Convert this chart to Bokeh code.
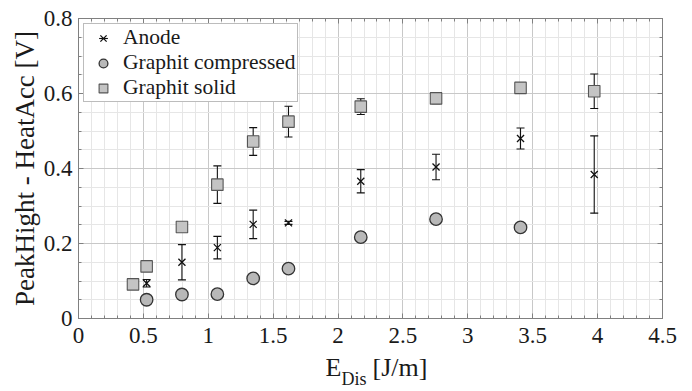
import numpy as np
from bokeh.plotting import figure
from bokeh.layouts import column
from bokeh.models import (Range1d, FixedTicker, LinearAxis, Whisker, ColumnDataSource,
                          Legend, LegendItem, Label, TeeHead)
from bokeh.embed import file_html
from bokeh.resources import INLINE

# ---------------- data ----------------
anode_x = [0.525, 0.797, 1.07, 1.346, 1.618, 2.175, 2.755, 3.406, 3.974]
anode_y = [0.094, 0.150, 0.189, 0.251, 0.255, 0.366, 0.404, 0.480, 0.384]
anode_err = [0.010, 0.047, 0.030, 0.038, 0.004, 0.031, 0.034, 0.028, 0.103]

comp_x = [0.525, 0.797, 1.07, 1.346, 1.618, 2.175, 2.755, 3.406]
comp_y = [0.050, 0.064, 0.065, 0.107, 0.133, 0.217, 0.265, 0.243]
comp_err = [0.008, 0.006, 0.006, 0.004, 0.006, 0.006, 0.005, 0.004]

solid_x = [0.42, 0.525, 0.797, 1.07, 1.346, 1.618, 2.175, 2.755, 3.406, 3.974]
solid_y = [0.091, 0.139, 0.244, 0.357, 0.472, 0.525, 0.565, 0.587, 0.615, 0.606]
solid_err = [0.008, 0.006, 0.004, 0.050, 0.037, 0.041, 0.021, 0.014, 0.004, 0.046]

series_labels = ["Anode", "Graphit compressed", "Graphit solid"]

x_ticks = [0, 0.5, 1, 1.5, 2, 2.5, 3, 3.5, 4, 4.5]
x_tick_labels = ["0", "0.5", "1", "1.5", "2", "2.5", "3", "3.5", "4", "4.5"]
y_ticks = [0, 0.2, 0.4, 0.6, 0.8]
y_tick_labels = ["0", "0.2", "0.4", "0.6", "0.8"]

x_label_main = "E"
x_label_sub = "Dis"
x_label_unit = "[J/m]"
y_label = "PeakHight - HeatAcc [V]"

# ---------------- styling ----------------
FONT = "Liberation Serif"
AX = "#808080"
TXT = "#1a1a1a"

x_minor = [round(0.1 * i, 2) for i in range(46)]
y_minor = [round(0.05 * i, 3) for i in range(17)]
xticker = FixedTicker(ticks=x_ticks, minor_ticks=x_minor)
yticker = FixedTicker(ticks=y_ticks, minor_ticks=y_minor)

p = figure(width=692, height=352, x_range=Range1d(0, 4.5), y_range=Range1d(0, 0.8),
           output_backend="svg", toolbar_location=None,
           min_border_left=78, min_border_right=30, min_border_top=18, min_border_bottom=34)
p.background_fill_color = "white"
p.border_fill_color = "white"
p.outline_line_color = AX


def style_axis(ax, ticker):
    ax.ticker = ticker
    ax.axis_line_color = AX
    ax.major_tick_line_color = AX
    ax.minor_tick_line_color = AX
    ax.major_tick_in = 5
    ax.major_tick_out = 0
    ax.minor_tick_in = 3
    ax.minor_tick_out = 0
    ax.major_label_text_font = FONT
    ax.major_label_text_font_size = "23px"
    ax.major_label_text_color = TXT


xa = p.xaxis[0]
style_axis(xa, xticker)
xa.major_label_overrides = dict(zip(x_ticks, x_tick_labels))
xa.major_label_standoff = 9

ya = p.yaxis[0]
style_axis(ya, yticker)
ya.major_label_overrides = dict(zip(y_ticks, y_tick_labels))
ya.major_label_standoff = 6
ya.axis_label = y_label
ya.axis_label_text_font = FONT
ya.axis_label_text_font_size = "27px"
ya.axis_label_text_font_style = "normal"
ya.axis_label_text_color = TXT
ya.axis_label_standoff = 1

top = LinearAxis()
style_axis(top, xticker)
top.major_label_overrides = dict(zip(x_ticks, [""] * len(x_ticks)))
top.major_label_standoff = 0
p.add_layout(top, "above")

right = LinearAxis()
style_axis(right, yticker)
right.major_label_overrides = dict(zip(y_ticks, [""] * len(y_ticks)))
right.major_label_standoff = 0
p.add_layout(right, "right")

for g, t in ((p.xgrid, xticker), (p.ygrid, yticker)):
    g.ticker = t
    g.grid_line_color = "#c8c8c8"
    g.minor_grid_line_color = "#e6e6e6"

# ---------------- data renderers ----------------
def make_src(x, y, e):
    y = np.array(y)
    e = np.array(e)
    return ColumnDataSource(dict(x=x, y=y, upper=y + e, lower=y - e))


src_a = make_src(anode_x, anode_y, anode_err)
src_c = make_src(comp_x, comp_y, comp_err)
src_s = make_src(solid_x, solid_y, solid_err)

r_c = p.scatter("x", "y", source=src_c, marker="circle", size=12.5,
                fill_color="#b8b8b8", line_color="#333333", line_width=1.3)
r_s = p.scatter("x", "y", source=src_s, marker="square", size=11.5,
                fill_color="#c4c4c4", line_color="#555555", line_width=1.1)
r_a = p.scatter("x", "y", source=src_a, marker="x", size=10,
                line_color="#111111", line_width=1.3)

for src in (src_a, src_c, src_s):
    w = Whisker(source=src, base="x", upper="upper", lower="lower", dimension="height",
                line_color="#111111", line_width=1.1,
                upper_head=TeeHead(size=8, line_color="#111111", line_width=1.1),
                lower_head=TeeHead(size=8, line_color="#111111", line_width=1.1))
    p.add_layout(w)

# legend-only error bar glyph (NaN position: nothing drawn in the plot)
bar_leg = p.scatter(x=[np.nan], y=[np.nan], marker="dash", angle=np.pi / 2, size=10,
                    line_color="#111111", line_width=1.1)

legend = Legend(items=[
    LegendItem(label=series_labels[0], renderers=[bar_leg, r_a]),
    LegendItem(label=series_labels[1], renderers=[bar_leg, r_c]),
    LegendItem(label=series_labels[2], renderers=[bar_leg, r_s]),
], location="top_left")
legend.label_text_font = FONT
legend.label_text_font_size = "21.5px"
legend.label_text_color = TXT
legend.glyph_width = 36
legend.glyph_height = 22
legend.label_height = 22
legend.spacing = 0
legend.padding = 1
legend.label_standoff = 2
legend.margin = 5
legend.border_line_color = "#7a7a7a"
legend.background_fill_color = "white"
legend.background_fill_alpha = 1
p.add_layout(legend)

# ---------------- x axis label (with subscript) in a strip below ----------------
p2 = figure(width=692, height=39, x_range=p.x_range, y_range=Range1d(0, 39),
            output_backend="svg", toolbar_location=None,
            x_axis_location=None, y_axis_location=None,
            min_border_left=78, min_border_right=30, min_border_top=0, min_border_bottom=0)
p2.grid.visible = False
p2.outline_line_color = None
p2.background_fill_color = "white"
p2.border_fill_color = "white"

xc = (x_ticks[0] + x_ticks[-1]) / 2
p2.add_layout(Label(x=xc, y=24, x_offset=-45, text=x_label_main,
                    text_font=FONT, text_font_size="26px", text_color=TXT,
                    text_baseline="alphabetic", text_align="left"))
p2.add_layout(Label(x=xc, y=13, x_offset=-29, text=x_label_sub,
                    text_font=FONT, text_font_size="18px", text_color=TXT,
                    text_baseline="alphabetic", text_align="left"))
p2.add_layout(Label(x=xc, y=24, x_offset=2, text=x_label_unit,
                    text_font=FONT, text_font_size="26px", text_color=TXT,
                    text_baseline="alphabetic", text_align="left"))

layout = column(p, p2, spacing=0)
open("out.html", "w").write(file_html(layout, INLINE))
